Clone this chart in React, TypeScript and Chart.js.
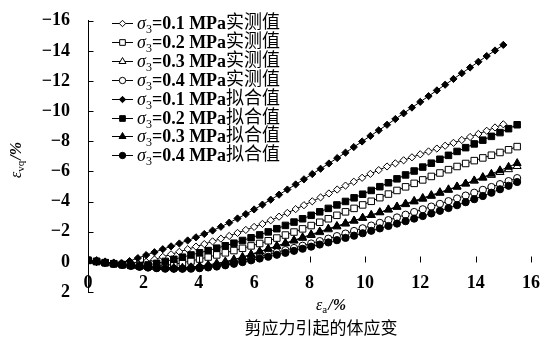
import React, { useEffect, useRef } from "react";
import { Chart, registerables } from "chart.js";

Chart.register(...registerables);

// x values (axial strain, %) for the σ3 = 0.1 MPa series
const X_S01 = [
  0, 0.3, 0.6, 0.9, 1.2, 1.5, 1.8, 2.1, 2.4, 2.7, 3.0, 3.3, 3.6, 3.9, 4.2, 4.5, 4.8,
  5.1, 5.4, 5.7, 6.0, 6.3, 6.6, 6.9, 7.2, 7.5, 7.8, 8.1, 8.4, 8.7, 9.0, 9.3, 9.6,
  9.9, 10.2, 10.5, 10.8, 11.1, 11.4, 11.7, 12.0, 12.3, 12.6, 12.9, 13.2, 13.5, 13.8,
  14.1, 14.4, 14.7, 15.0,
];
// x values for σ3 = 0.2 / 0.3 / 0.4 MPa series
const X_S02_04 = [
  0, 0.31, 0.62, 0.93, 1.24, 1.55, 1.86, 2.17, 2.48, 2.79, 3.1, 3.41, 3.72, 4.03,
  4.34, 4.65, 4.96, 5.27, 5.58, 5.89, 6.2, 6.51, 6.82, 7.13, 7.44, 7.75, 8.06, 8.37,
  8.68, 8.99, 9.3, 9.61, 9.92, 10.23, 10.54, 10.85, 11.16, 11.47, 11.78, 12.09, 12.4,
  12.71, 13.02, 13.33, 13.64, 13.95, 14.26, 14.57, 14.88, 15.19, 15.5,
];

// measured values (实测值)
const MEAS_01 = [
  -0.1, -0.02, 0.05, 0.12, 0.16, 0.17, 0.12, 0.0, -0.16, -0.33, -0.5, -0.67, -0.84,
  -1.01, -1.18, -1.36, -1.54, -1.72, -1.92, -2.12, -2.32, -2.52, -2.76, -3.0, -3.25,
  -3.5, -3.76, -4.02, -4.28, -4.54, -4.8, -5.06, -5.32, -5.58, -5.84, -6.09, -6.33,
  -6.54, -6.74, -6.94, -7.14, -7.33, -7.52, -7.71, -7.9, -8.09, -8.29, -8.49, -8.7,
  -8.92, -9.13,
];
const MEAS_02 = [
  -0.1, -0.03, 0.05, 0.12, 0.18, 0.23, 0.27, 0.29, 0.28, 0.24, 0.16, 0.06, -0.06,
  -0.19, -0.32, -0.46, -0.6, -0.75, -0.9, -1.06, -1.22, -1.4, -1.58, -1.78, -1.98,
  -2.19, -2.41, -2.63, -2.86, -3.09, -3.32, -3.55, -3.78, -4.02, -4.26, -4.5, -4.74,
  -4.98, -5.21, -5.44, -5.67, -5.9, -6.12, -6.33, -6.53, -6.72, -6.9, -7.08, -7.26,
  -7.44, -7.65,
];
const MEAS_03 = [
  -0.1, -0.04, 0.04, 0.11, 0.17, 0.23, 0.28, 0.32, 0.35, 0.37, 0.38, 0.37, 0.34, 0.28,
  0.2, 0.1, -0.02, -0.16, -0.32, -0.5, -0.68, -0.86, -1.04, -1.22, -1.4, -1.58, -1.77,
  -1.96, -2.15, -2.34, -2.53, -2.72, -2.91, -3.1, -3.29, -3.48, -3.67, -3.86, -4.05,
  -4.24, -4.43, -4.62, -4.81, -5.0, -5.19, -5.38, -5.57, -5.76, -5.95, -6.14, -6.35,
];
const MEAS_04 = [
  -0.1, -0.04, 0.04, 0.11, 0.18, 0.24, 0.3, 0.35, 0.39, 0.42, 0.43, 0.43, 0.41, 0.37,
  0.31, 0.23, 0.13, 0.02, -0.1, -0.23, -0.36, -0.5, -0.64, -0.78, -0.92, -1.07, -1.22,
  -1.38, -1.54, -1.71, -1.88, -2.05, -2.23, -2.41, -2.59, -2.77, -2.95, -3.13, -3.31,
  -3.49, -3.67, -3.85, -4.03, -4.21, -4.4, -4.59, -4.78, -4.97, -5.16, -5.36, -5.56,
];

// fitted values (拟合值)
const FIT_01 = [
  -0.1, 0.0, 0.06, 0.1, 0.08, -0.05, -0.25, -0.45, -0.64, -0.84, -1.03, -1.22, -1.42,
  -1.63, -1.85, -2.08, -2.33, -2.6, -2.88, -3.17, -3.48, -3.8, -4.13, -4.46, -4.8,
  -5.14, -5.48, -5.83, -6.18, -6.53, -6.89, -7.25, -7.62, -7.99, -8.36, -8.73, -9.1,
  -9.48, -9.86, -10.24, -10.62, -11.0, -11.38, -11.76, -12.14, -12.52, -12.9, -13.28,
  -13.66, -14.03, -14.4,
];
const FIT_02 = [
  -0.1, -0.02, 0.06, 0.13, 0.19, 0.23, 0.24, 0.2, 0.1, -0.03, -0.17, -0.31, -0.46,
  -0.6, -0.75, -0.91, -1.07, -1.24, -1.42, -1.6, -1.79, -1.99, -2.2, -2.42, -2.64,
  -2.86, -3.09, -3.32, -3.55, -3.78, -4.01, -4.25, -4.49, -4.74, -4.99, -5.25, -5.51,
  -5.77, -6.03, -6.29, -6.55, -6.81, -7.07, -7.33, -7.58, -7.83, -8.08, -8.33, -8.58,
  -8.84, -9.1,
];
const FIT_03 = [
  -0.1, -0.03, 0.05, 0.12, 0.18, 0.24, 0.29, 0.33, 0.36, 0.38, 0.39, 0.39, 0.37, 0.32,
  0.25, 0.15, 0.03, -0.12, -0.3, -0.49, -0.68, -0.87, -1.06, -1.25, -1.44, -1.63,
  -1.82, -2.01, -2.2, -2.38, -2.56, -2.74, -2.92, -3.1, -3.28, -3.46, -3.64, -3.82,
  -4.0, -4.18, -4.37, -4.57, -4.77, -4.98, -5.19, -5.4, -5.62, -5.84, -6.07, -6.3,
  -6.55,
];
const FIT_04 = [
  -0.1, -0.03, 0.05, 0.13, 0.2, 0.27, 0.33, 0.38, 0.42, 0.45, 0.46, 0.46, 0.45, 0.42,
  0.37, 0.31, 0.23, 0.13, 0.02, -0.1, -0.22, -0.34, -0.47, -0.6, -0.73, -0.87, -1.01,
  -1.15, -1.29, -1.44, -1.59, -1.74, -1.9, -2.06, -2.22, -2.38, -2.54, -2.7, -2.87,
  -3.04, -3.21, -3.39, -3.57, -3.76, -3.96, -4.16, -4.37, -4.59, -4.82, -5.05, -5.3,
];

const SIGMA3 = ["0.1", "0.2", "0.3", "0.4"];
const KIND_MEAS = "实测值";
const KIND_FIT = "拟合值";
const MARKERS = ["rectRot", "rect", "triangle", "circle"];
const X_TICK_STEP = 2;
const Y_TICK_STEP = 2;
const CAPTION = "剪应力引起的体应变";

const SERIF = '"Liberation Serif", "Times New Roman", serif';
const CJK = '"Noto Sans CJK SC", sans-serif';

const MARKER_R: Record<string, number> = { rectRot: 3.6, rect: 4.6, triangle: 4.6, circle: 3.6 };

function zip(xs: number[], ys: number[]) {
  return ys.map((y, i) => ({ x: xs[i], y }));
}

function drawMarker(ctx: CanvasRenderingContext2D, style: string, x: number, y: number, r: number, filled: boolean) {
  ctx.beginPath();
  if (style === "rectRot") {
    ctx.moveTo(x - r, y);
    ctx.lineTo(x, y - r);
    ctx.lineTo(x + r, y);
    ctx.lineTo(x, y + r);
    ctx.closePath();
  } else if (style === "rect") {
    const s = r * Math.SQRT1_2;
    ctx.rect(x - s, y - s, 2 * s, 2 * s);
  } else if (style === "triangle") {
    let a = 0;
    ctx.moveTo(x + Math.sin(a) * r, y - Math.cos(a) * r);
    a += (2 * Math.PI) / 3;
    ctx.lineTo(x + Math.sin(a) * r, y - Math.cos(a) * r);
    a += (2 * Math.PI) / 3;
    ctx.lineTo(x + Math.sin(a) * r, y - Math.cos(a) * r);
    ctx.closePath();
  } else {
    ctx.arc(x, y, r, 0, Math.PI * 2);
  }
  ctx.fillStyle = filled ? "#000" : "#fff";
  ctx.fill();
  ctx.lineWidth = 1;
  ctx.strokeStyle = "#000";
  ctx.stroke();
}

// draws "ε" + subscript + "/%"
function drawEpsLabel(ctx: CanvasRenderingContext2D, sub: string, cx: number, cy: number, size: number) {
  const mainFont = `italic ${size}px ${SERIF}`;
  const unitFont = `italic bold ${size}px ${SERIF}`;
  const subFont = `${Math.round(size * 0.7)}px ${SERIF}`;
  ctx.font = mainFont;
  const w1 = ctx.measureText("ε").width;
  ctx.font = unitFont;
  const w3 = ctx.measureText("/%").width;
  ctx.font = subFont;
  const w2 = ctx.measureText(sub).width;
  let x = cx - (w1 + w2 + w3 + 1) / 2;
  ctx.textBaseline = "alphabetic";
  ctx.textAlign = "left";
  const base = cy + size * 0.32;
  ctx.font = mainFont;
  ctx.fillText("ε", x, base);
  x += w1;
  ctx.font = subFont;
  ctx.fillText(sub, x, base + size * 0.2);
  x += w2 + 1;
  ctx.font = unitFont;
  ctx.fillText("/%", x, base);
}

const decorPlugin = {
  id: "decor",
  afterDraw(chart: any) {
    const ctx: CanvasRenderingContext2D = chart.ctx;
    const xs = chart.scales.x;
    const ys = chart.scales.y;
    ctx.save();
    ctx.strokeStyle = "#000";
    ctx.lineWidth = 1;
    // inward tick marks on y axis
    const x0 = Math.round(xs.getPixelForValue(0)) + 0.5;
    for (let v = ys.min; v <= ys.max; v += Y_TICK_STEP) {
      const py = Math.round(ys.getPixelForValue(v)) + 0.5;
      ctx.beginPath();
      ctx.moveTo(x0, py);
      ctx.lineTo(x0 + 5, py);
      ctx.stroke();
    }
    // upward tick marks on x axis (at y = 0)
    const y0 = Math.round(ys.getPixelForValue(0)) + 0.5;
    for (let v = xs.min + X_TICK_STEP; v <= xs.max; v += X_TICK_STEP) {
      const px = Math.round(xs.getPixelForValue(v)) + 0.5;
      ctx.beginPath();
      ctx.moveTo(px, y0);
      ctx.lineTo(px, y0 - 6);
      ctx.stroke();
    }

    ctx.fillStyle = "#000";
    // y title (rotated)
    ctx.save();
    ctx.translate(16, 160);
    ctx.rotate(-Math.PI / 2);
    drawEpsLabel(ctx, "vq", 0, 0, 16);
    ctx.restore();
    // x title
    drawEpsLabel(ctx, "a", 331, 305, 16);
    // caption
    ctx.font = `17px ${CJK}`;
    ctx.textAlign = "center";
    ctx.textBaseline = "middle";
    ctx.fillText(CAPTION, 321, 328);

    // legend
    const rowH = 18.9;
    const top = 23;
    chart.data.datasets.forEach((ds: any, i: number) => {
      const cy = top + i * rowH;
      ctx.beginPath();
      ctx.moveTo(112, Math.round(cy) + 0.5);
      ctx.lineTo(133, Math.round(cy) + 0.5);
      ctx.stroke();
      drawMarker(ctx, ds.pointStyle, 122.5, Math.round(cy) + 0.5, ds.pointStyle === "rect" || ds.pointStyle === "triangle" ? 4 : 3.2, ds.pointBackgroundColor === "#000");
      let x = 137;
      ctx.textAlign = "left";
      ctx.textBaseline = "alphabetic";
      const base = cy + 6;
      ctx.fillStyle = "#000";
      ctx.font = `italic 18px ${SERIF}`;
      ctx.fillText("σ", x, base);
      x += ctx.measureText("σ").width;
      ctx.font = `12px ${SERIF}`;
      ctx.fillText("3", x, base + 4);
      x += ctx.measureText("3").width;
      ctx.font = `bold 18px ${SERIF}`;
      const t = `=${ds.sigma} MPa`;
      ctx.fillText(t, x, base);
      x += ctx.measureText(t).width;
      ctx.font = `18px ${CJK}`;
      ctx.fillText(ds.kind, x, base - 1);
    });
    ctx.restore();
  },
};

export default function App() {
  const ref = useRef<HTMLCanvasElement | null>(null);
  useEffect(() => {
    if (!ref.current) return;
    const measSets = [MEAS_01, MEAS_02, MEAS_03, MEAS_04];
    const fitSets = [FIT_01, FIT_02, FIT_03, FIT_04];
    const xFor = (i: number) => (i === 0 ? X_S01 : X_S02_04);
    const mk = (ys: number[], i: number, filled: boolean) => ({
      label: `σ3=${SIGMA3[i]} MPa${filled ? KIND_FIT : KIND_MEAS}`,
      sigma: SIGMA3[i],
      kind: filled ? KIND_FIT : KIND_MEAS,
      data: zip(xFor(i), ys),
      borderColor: "#000",
      borderWidth: 1,
      pointStyle: MARKERS[i],
      pointRadius: MARKER_R[MARKERS[i]],
      pointBackgroundColor: filled ? "#000" : "#fff",
      pointBorderColor: "#000",
      pointBorderWidth: 1,
      tension: 0,
      fill: false,
      order: filled ? 0 : 1,
    });
    const datasets = [
      ...measSets.map((ys, i) => mk(ys, i, false)),
      ...fitSets.map((ys, i) => mk(ys, i, true)),
    ];
    const tickFont = { family: SERIF, size: 18, weight: "bold" as const };
    const chart = new Chart(ref.current, {
      type: "line",
      data: { datasets } as any,
      plugins: [decorPlugin],
      options: {
        animation: false,
        responsive: false,
        devicePixelRatio: 1,
        layout: { padding: { top: 17, right: 15, bottom: 53, left: 0 } },
        plugins: { legend: { display: false }, tooltip: { enabled: false } },
        scales: {
          x: {
            type: "linear",
            min: 0,
            max: 16,
            position: { y: 0 } as any,
            ticks: { stepSize: X_TICK_STEP, font: tickFont, color: "#000", padding: 3, maxRotation: 0, autoSkip: false },
            grid: { display: false },
            border: { display: false },
          },
          y: {
            type: "linear",
            min: -16,
            max: 2,
            reverse: true,
            position: "left",
            ticks: {
              stepSize: Y_TICK_STEP,
              font: tickFont,
              color: "#000",
              padding: 10,
              autoSkip: false,
              callback: (v: any) => (Number(v) < 0 ? "\u2212" + Math.abs(Number(v)) : String(v)),
            },
            grid: { display: false },
            border: { display: true, color: "#000", width: 1 },
            afterFit: (s: any) => {
              s.width = 88;
            },
          },
        },
      } as any,
    });
    return () => chart.destroy();
  }, []);
  return (
    <div style={{ position: "fixed", left: 0, top: 0, width: 546, height: 345, background: "#fff" }}>
      <canvas ref={ref} width={546} height={345} style={{ width: 546, height: 345, display: "block" }} />
    </div>
  );
}
